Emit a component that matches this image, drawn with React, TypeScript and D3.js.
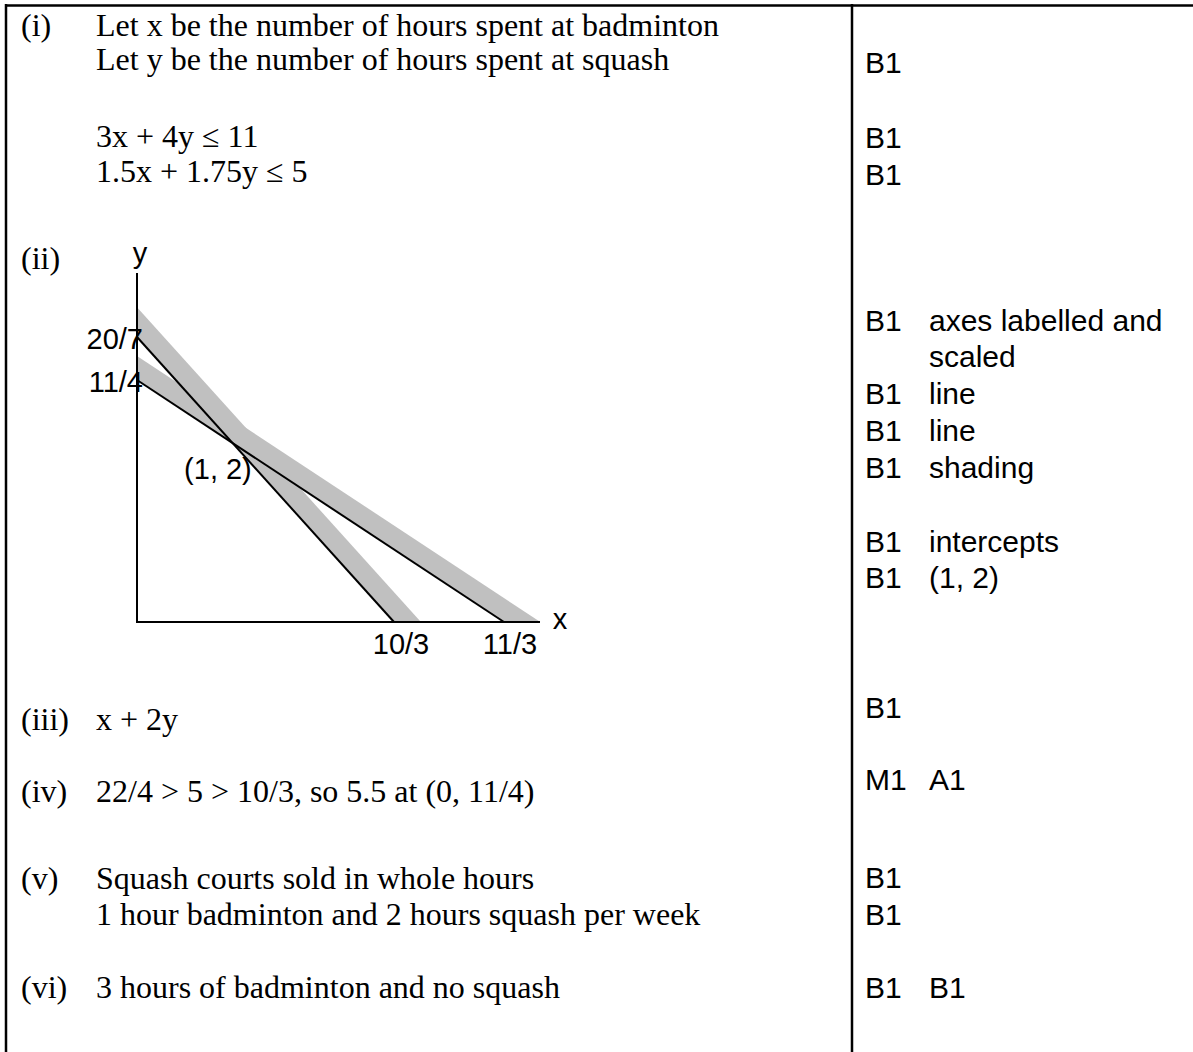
import * as d3 from "d3";

// constraints a*x + b*y <= c
const constraints = [
  { name: "racket", a: 3, b: 4, c: 11 },
  { name: "cost", a: 1.5, b: 1.75, c: 5 },
];
const xTickValues = [10 / 3, 11 / 3];
const xTickLabels = ["10/3", "11/3"];
const yTickValues = [20 / 7, 11 / 4];
const yTickLabels = ["20/7", "11/4"];
const vertex = { x: 1, y: 2, label: "(1, 2)" };

const answerRows = [
  { num: "(i)", lines: ["Let x be the number of hours spent at badminton", "Let y be the number of hours spent at squash"] },
  { num: "", lines: ["3x + 4y ≤ 11", "1.5x + 1.75y ≤ 5"] },
  { num: "(ii)", lines: [] },
  { num: "(iii)", lines: ["x + 2y"] },
  { num: "(iv)", lines: ["22/4 > 5 > 10/3,  so 5.5 at (0, 11/4)"] },
  { num: "(v)", lines: ["Squash courts sold in whole hours", "1 hour badminton and 2 hours squash per week"] },
  { num: "(vi)", lines: ["3 hours of badminton and no squash"] },
];
const answerBaselines = [[36, 70], [147, 182], [269], [730], [802], [889, 925], [998]];

const markRows = [
  ["B1", ""],
  ["B1", ""], ["B1", ""],
  ["B1", "axes labelled and"], ["", "scaled"], ["B1", "line"], ["B1", "line"], ["B1", "shading"],
  ["B1", "intercepts"], ["B1", "(1, 2)"],
  ["B1", ""],
  ["M1", "A1"],
  ["B1", ""], ["B1", ""],
  ["B1", "B1"],
];
const markBaselines = [73, 148, 185, 331, 367, 404, 441, 478, 552, 588, 718, 790, 888, 925, 998];

const SERIF = "'Liberation Serif', 'Times New Roman', serif";
const SANS = "'Liberation Sans', Arial, sans-serif";

export default function App() {
  const W = 1193;
  const H = 1052;
  const divider = 852;

  // sketch graph is not to scale, so the scales are piecewise
  const x = d3.scaleLinear().domain([0, 10 / 3, 11 / 3]).range([137, 394, 504]);
  const y = d3.scaleLinear().domain([0, 11 / 4, 20 / 7]).range([622, 380, 337]);
  const axisRight = 540;
  const axisTop = 273;
  const bandWidth = 20;

  const lines = constraints.map((c) => {
    const p0: [number, number] = [x(0), y(c.c / c.b)];
    const p1: [number, number] = [x(c.c / c.a), y(0)];
    const dx = p1[0] - p0[0];
    const dy = p1[1] - p0[1];
    const len = Math.hypot(dx, dy);
    const nx = dy / len;
    const ny = -dx / len;
    const t0 = (-bandWidth * nx) / dx;
    const q0: [number, number] = [x(0), p0[1] + bandWidth * ny + t0 * dy];
    const t1 = (-bandWidth * ny) / dy;
    const q1: [number, number] = [p1[0] + bandWidth * nx + t1 * dx, y(0)];
    return { ...c, p0, p1, band: [p0, p1, q1, q0] as [number, number][] };
  });

  return (
    <svg width={W} height={H} style={{ position: "absolute", left: 0, top: 0, background: "#fff" }}>
      {/* table rules */}
      <g stroke="#000" strokeWidth={2.5}>
        <line x1={5} y1={5.5} x2={W} y2={5.5} />
        <line x1={6} y1={4} x2={6} y2={H} />
        <line x1={divider} y1={4} x2={divider} y2={H} />
      </g>

      {/* answer column */}
      <g fontFamily={SERIF} fontSize={32} fill="#000">
        {answerRows.map((r, i) => (
          <g key={i}>
            {r.num && (
              <text x={21} y={answerBaselines[i][0]}>{r.num}</text>
            )}
            {r.lines.map((l, j) => (
              <text key={j} x={96} y={answerBaselines[i][j]}>{l}</text>
            ))}
          </g>
        ))}
      </g>

      {/* marks column */}
      <g fontFamily={SANS} fontSize={30} fill="#000">
        {markRows.map((m, i) => (
          <g key={i}>
            {m[0] && <text x={865} y={markBaselines[i]}>{m[0]}</text>}
            {m[1] && <text x={929} y={markBaselines[i]}>{m[1]}</text>}
          </g>
        ))}
      </g>

      {/* sketch graph */}
      <g>
        {lines.map((l) => (
          <polygon key={l.name + "band"} points={l.band.map((p) => p.join(",")).join(" ")} fill="#c0c0c0" />
        ))}
        {lines.map((l) => (
          <line key={l.name} x1={l.p0[0]} y1={l.p0[1]} x2={l.p1[0]} y2={l.p1[1]} stroke="#000" strokeWidth={2} />
        ))}
        <line x1={x(0)} y1={axisTop} x2={x(0)} y2={y(0)} stroke="#000" strokeWidth={2} />
        <line x1={x(0) - 1} y1={y(0)} x2={axisRight} y2={y(0)} stroke="#000" strokeWidth={2} />
        <g fontFamily={SANS} fontSize={29} fill="#000">
          <text x={x(0) + 3} y={263} textAnchor="middle">y</text>
          <text x={axisRight + 20} y={629} textAnchor="middle">x</text>
          {yTickValues.map((v, i) => (
            <text key={i} x={x(0) + 6} y={y(v) + 12} textAnchor="end">{yTickLabels[i]}</text>
          ))}
          {xTickValues.map((v, i) => (
            <text key={i} x={x(v) + (i === 0 ? 7 : 6)} y={654} textAnchor="middle">{xTickLabels[i]}</text>
          ))}
          <text x={x(vertex.x) - 30} y={y(vertex.y) + 33}>{vertex.label}</text>
        </g>
      </g>
    </svg>
  );
}
